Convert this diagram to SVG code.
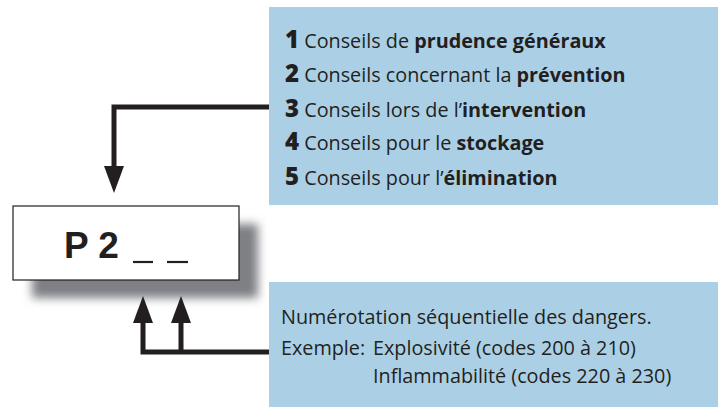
<svg xmlns="http://www.w3.org/2000/svg" width="718" height="407" viewBox="0 0 718 407">
<defs>
<filter id="sh" x="-20%" y="-40%" width="140%" height="180%"><feGaussianBlur stdDeviation="5"/></filter>
<marker id="ah" viewBox="0 0 27 20" refX="0" refY="10" markerUnits="userSpaceOnUse" markerWidth="27" markerHeight="20" orient="auto"><path d="M0,0 L27,10 L0,20 Z" fill="#231f20"/></marker>
</defs>
<style>
.box{fill:#abd0e6}
.t{font-family:"Open Sans","Noto Sans",sans-serif;font-size:19.8px;fill:#231f20}
.b{font-weight:bold}
.n{font-weight:900;font-size:24px}
.c{fill:none;stroke:#231f20;stroke-width:5}
</style>
<g id="info-top">
<rect class="box" x="269" y="7" width="449" height="198"/>
<text class="t" x="285" y="48"><tspan class="n">1</tspan> Conseils de <tspan class="b">prudence généraux</tspan></text>
<text class="t" x="285" y="82"><tspan class="n">2</tspan> Conseils concernant la <tspan class="b">prévention</tspan></text>
<text class="t" x="285" y="117"><tspan class="n">3</tspan> Conseils lors de l’<tspan class="b">intervention</tspan></text>
<text class="t" x="285" y="150"><tspan class="n">4</tspan> Conseils pour le <tspan class="b">stockage</tspan></text>
<text class="t" x="285" y="185"><tspan class="n">5</tspan> Conseils pour l’<tspan class="b">élimination</tspan></text>
</g>
<g id="info-bottom">
<rect class="box" x="269" y="282" width="449" height="125"/>
<text class="t" x="281" y="324">Numérotation séquentielle des dangers.</text>
<text class="t" x="281" y="355">Exemple:</text>
<text class="t" x="373" y="355">Explosivité (codes 200 à 210)</text>
<text class="t" x="373" y="383">Inflammabilité (codes 220 à 230)</text>
</g>
<g id="code">
<rect x="32" y="224" width="226" height="74" fill="#7e8084" filter="url(#sh)"/>
<rect x="13" y="206" width="226" height="74" fill="#fff" stroke="#231f20" stroke-width="1.2"/>
<text x="64" y="258" font-family="Liberation Sans, Arial, sans-serif" font-weight="bold" font-size="37" fill="#231f20">P 2</text>
<line x1="133" y1="262" x2="153" y2="262" stroke="#231f20" stroke-width="2.2"/>
<line x1="167" y1="262" x2="188" y2="262" stroke="#231f20" stroke-width="2.2"/>
</g>
<g id="connectors">
<path class="c" d="M269,107 H114 V166" marker-end="url(#ah)"/>
<path class="c" d="M269,352 H143 V323" marker-end="url(#ah)"/>
<path class="c" d="M181,352 V323" marker-end="url(#ah)"/>
</g>
</svg>
